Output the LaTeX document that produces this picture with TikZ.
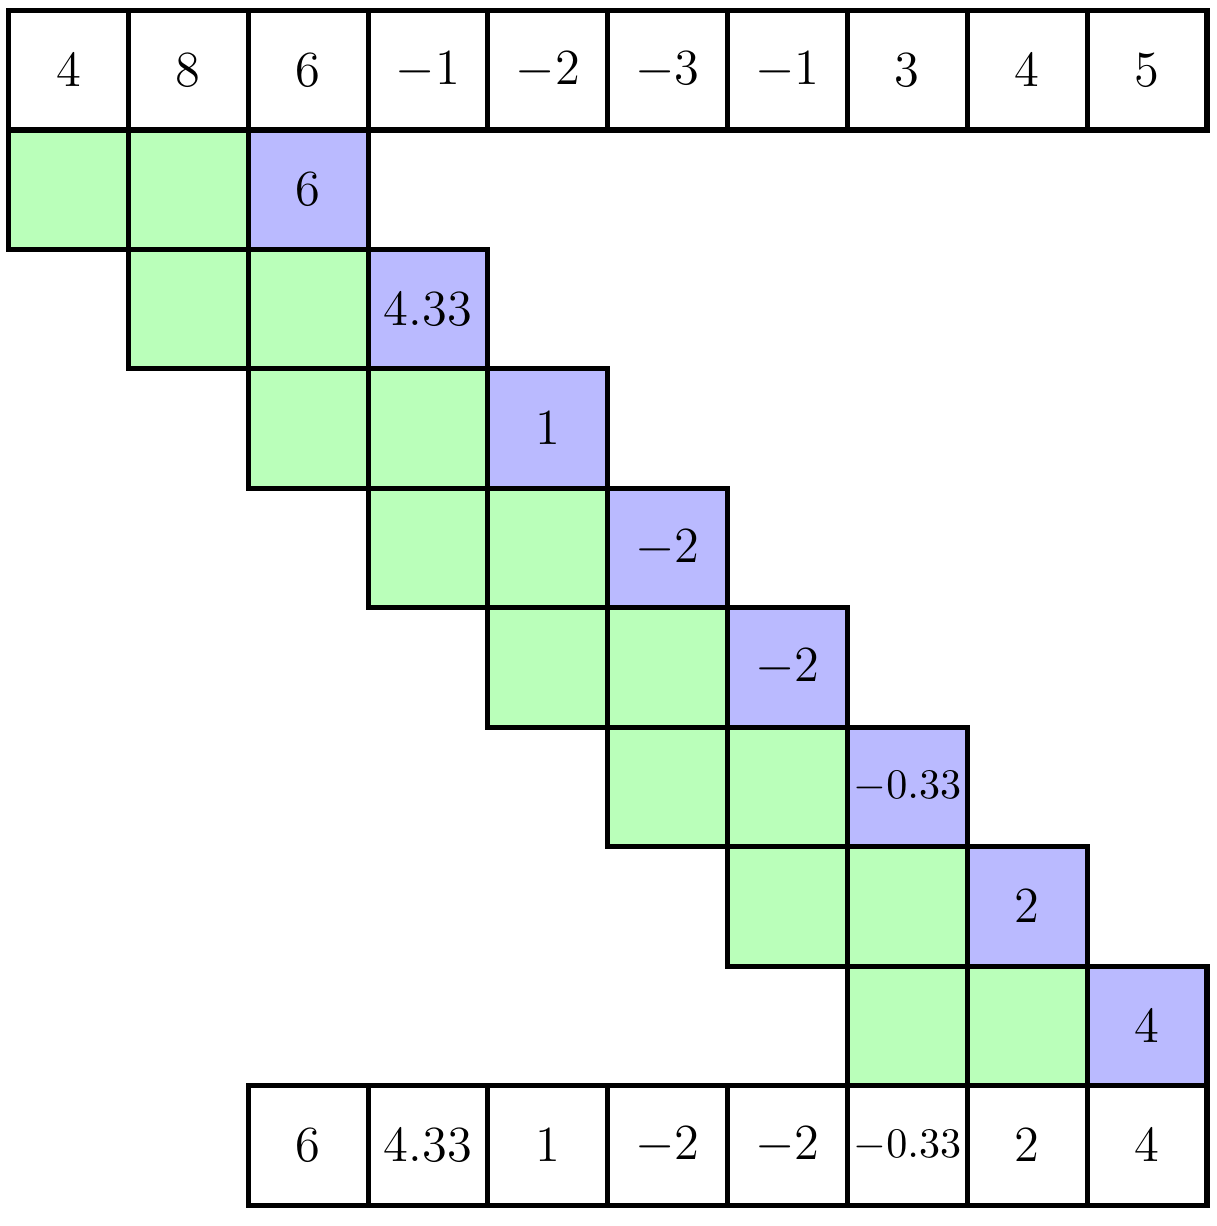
\documentclass[tikz,border=0pt]{standalone}
\usetikzlibrary{positioning}
\begin{document}
\begin{tikzpicture}[scale=1.0,transform shape,y=0.9967cm]
      \tikzstyle{cell}=[rectangle, draw, very thick, minimum width=1cm, minimum height=0.9967cm, inner sep=0pt, outer sep=0pt, font=\large]
      \tikzstyle{oldcell}=[cell, fill=green!27]
      \tikzstyle{avgcell}=[cell, fill=blue!27]
      \useasboundingbox (-0.071,0.0879) rectangle (10.08,-10.1756);
      % input row
      \foreach \v [count=\i from 0] in {4,8,6,-1,-2,-3,-1,3,4,5}
        \node[cell] (in\i) at (\i+0.5,-0.5) {$\v$};
      % sliding windows
      \foreach \v/\sz [count=\i from 0] in {6/\large,4.33/\large,1/\large,-2/\large,-2/\large,-0.33/\normalsize,2/\large,4/\large} {
        \node[oldcell] (A\i) at (\i+0.5,-\i-1.5) {};
        \node[oldcell, right = 0pt of A\i] (B\i) {};
        \node[avgcell, right = 0pt of B\i, font=\sz] (M\i) {$\v$};
      }
      % output row
      \foreach \v/\sz [count=\i from 2] in {6/\large,4.33/\large,1/\large,-2/\large,-2/\large,-0.33/\normalsize,2/\large,4/\large}
        \node[cell, font=\sz] (out\i) at (\i+0.5,-9.5) {$\v$};
    \end{tikzpicture}
\end{document}
